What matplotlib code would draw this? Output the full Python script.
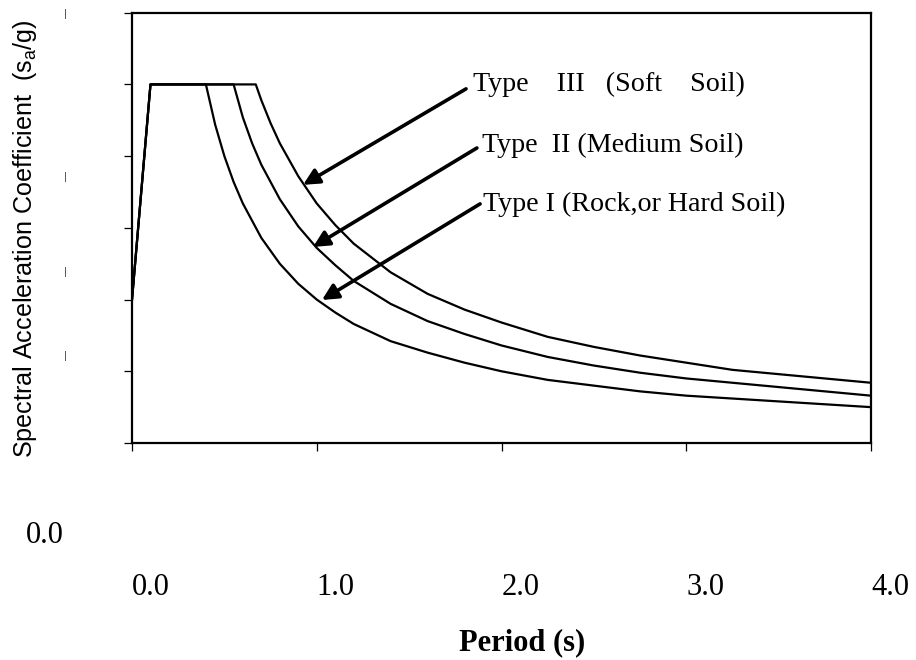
import matplotlib
matplotlib.use("Agg")
import matplotlib.pyplot as plt
from matplotlib.transforms import blended_transform_factory

# ---- data ----
t_type1 = [0, 0.10, 0.40, 0.45, 0.50, 0.55, 0.60, 0.70, 0.80, 0.90, 1.00, 1.10, 1.20,
           1.40, 1.60, 1.80, 2.00, 2.25, 2.50, 2.75, 3.00, 3.25, 3.50, 3.75, 4.00]
sa_type1 = [1.00, 2.50, 2.50, 2.22, 2.00, 1.82, 1.67, 1.43, 1.25, 1.11, 1.00, 0.91, 0.83,
            0.71, 0.63, 0.56, 0.50, 0.44, 0.40, 0.36, 0.33, 0.31, 0.29, 0.27, 0.25]

t_type2 = [0, 0.10, 0.55, 0.60, 0.65, 0.70, 0.80, 0.90, 1.00, 1.10, 1.20, 1.40, 1.60,
           1.80, 2.00, 2.25, 2.50, 2.75, 3.00, 3.25, 3.50, 3.75, 4.00]
sa_type2 = [1.00, 2.50, 2.50, 2.27, 2.09, 1.94, 1.70, 1.51, 1.36, 1.24, 1.13, 0.97, 0.85,
            0.76, 0.68, 0.60, 0.54, 0.49, 0.45, 0.42, 0.39, 0.36, 0.33]

t_type3 = [0, 0.10, 0.67, 0.70, 0.75, 0.80, 0.90, 1.00, 1.10, 1.20, 1.40, 1.60, 1.80,
           2.00, 2.25, 2.50, 2.75, 3.00, 3.25, 3.50, 3.75, 4.00]
sa_type3 = [1.00, 2.50, 2.50, 2.39, 2.23, 2.09, 1.86, 1.67, 1.52, 1.39, 1.19, 1.04, 0.93,
            0.84, 0.74, 0.67, 0.61, 0.56, 0.51, 0.48, 0.45, 0.42]

x_ticks = [0.0, 1.0, 2.0, 3.0, 4.0]
x_tick_labels = ["0.0", "1.0", "2.0", "3.0", "4.0"]
y_ticks = [0.0, 0.5, 1.0, 1.5, 2.0, 2.5, 3.0]

labels = ["Type    III   (Soft    Soil)", "Type  II (Medium Soil)", "Type I (Rock,or Hard Soil)"]
label_pos = [(1.846, 2.497), (1.894, 2.078), (1.900, 1.660)]
arrow_tail = [(1.808, 2.469), (1.867, 2.057), (1.884, 1.667)]
arrow_head = [(0.926, 1.80), (0.980, 1.367), (1.028, 0.997)]

serif = ["Liberation Serif", "DejaVu Serif"]
sans = ["Liberation Sans", "DejaVu Sans"]

fig = plt.figure(figsize=(9.16, 6.60), dpi=100)
ax = fig.add_axes([132 / 916, 1 - 443 / 660, (871 - 132) / 916, (443 - 12.7) / 660])

for t, s in [(t_type1, sa_type1), (t_type2, sa_type2), (t_type3, sa_type3)]:
    ax.plot(t, s, color="black", lw=1.6, solid_joinstyle="round")

ax.set_xlim(0, 4.0)
ax.set_ylim(0, 3.0)
ax.set_xticks(x_ticks)
ax.set_yticks(y_ticks)
ax.set_xticklabels([])
ax.set_yticklabels([])
ax.tick_params(direction="out", length=5.5, width=0.9, colors="black")
for sp in ax.spines.values():
    sp.set_linewidth(1.6)
    sp.set_color("black")

# x tick labels (left-aligned at the ticks, as in the reference)
trans = blended_transform_factory(ax.transData, fig.transFigure)
for xv, lab in zip(x_ticks, x_tick_labels):
    ax.text(xv, 1 - 595 / 660, lab, transform=trans, ha="left", va="baseline",
            fontsize=22, family=serif)

fig.text(26 / 916, 1 - 543 / 660, "0.0", ha="left", va="baseline", fontsize=22, family=serif)
fig.text(522 / 916, 1 - 650 / 660, "Period (s)", ha="center", va="baseline",
         fontsize=22, fontweight="bold", family=serif)
fig.text(25 / 916, 1 - 239 / 660, r"Spectral Acceleration Coefficient  (s$_\mathregular{a}$/g)",
         rotation=90, ha="center", va="center", fontsize=18.1, family=sans)

# clipped fragments of the y tick labels
for yy in [14, 177, 272, 356]:
    fig.text(65 / 916, 1 - yy / 660, "|", ha="center", va="center", fontsize=8,
             color="#444444", family=sans)

for lab, (tx, ty), tail, head in zip(labels, label_pos, arrow_tail, arrow_head):
    ax.text(tx, ty, lab, ha="left", va="center", fontsize=20.2, family=serif)
    ax.annotate("", xy=head, xytext=tail,
                arrowprops=dict(arrowstyle="-|>", lw=2.6, color="black",
                                mutation_scale=24, shrinkA=0, shrinkB=0))

fig.savefig("out.png", dpi=100)
